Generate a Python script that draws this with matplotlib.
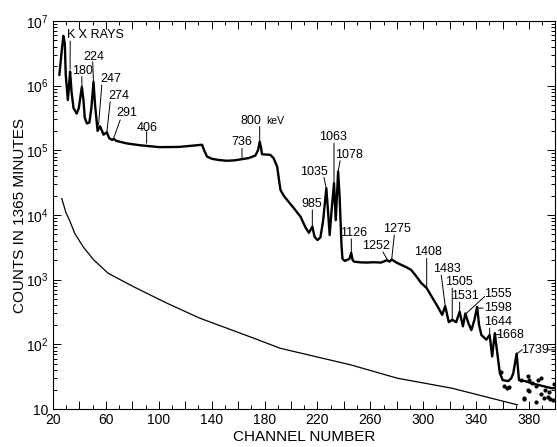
import numpy as np
import matplotlib
matplotlib.use('Agg')
import matplotlib.pyplot as plt
from matplotlib.ticker import FixedLocator, LogLocator, NullFormatter, FixedFormatter

plt.rcParams['font.family'] = ['Liberation Sans', 'DejaVu Sans']
plt.rcParams['mathtext.fontset'] = 'custom'
plt.rcParams['mathtext.rm'] = 'Liberation Sans'
plt.rcParams['mathtext.it'] = 'Liberation Sans:italic'
plt.rcParams['mathtext.bf'] = 'Liberation Sans:bold'

# ---------------- data ----------------
spec_channel = [24.8, 26.6, 27.8, 28.9, 29.6, 31.2, 32.1, 32.9, 34.0, 35.5,
                37.9, 39.5, 41.8, 43.0, 44.0, 45.6, 47.5, 49.0, 50.6, 51.8,
                53.7, 55.6, 58.2, 60.7, 62.4, 64.6, 65.9, 67.9, 75.7, 85.6,
                100.5, 115.4, 125.3, 132.7, 134.3, 136.5, 140.2, 145.1, 151.5, 157.1,
                162.9, 168.0, 173.0, 175.0, 176.3, 177.3, 178.1, 184.4, 186.9, 189.5,
                190.9, 192.0, 194.4, 197.1, 201.8, 207.2, 210.8, 213.5, 216.1, 217.8,
                220.0, 222.2, 224.2, 226.7, 227.9, 229.2, 230.7, 232.5, 233.8, 235.6,
                236.7, 238.2, 238.9, 240.7, 244.2, 245.5, 246.6, 247.7, 252.6, 257.9,
                262.6, 268.1, 272.5, 274.5, 276.1, 279.5, 283.2, 287.4, 290.8, 294.4,
                298.4, 302.6, 306.3, 311.0, 314.3, 316.6, 319.3, 321.9, 324.9, 327.5,
                330.0, 331.8, 334.2, 336.4, 338.7, 340.7, 342.2, 343.9, 347.7, 350.2,
                352.1, 354.1, 356.1, 357.9, 360.1, 364.3, 366.6, 368.1, 370.6, 372.4,
                377.1, 382.0, 389.0, 397.0, 400.0]
spec_counts = [1.46e6, 3.5e6, 5.9e6, 4.5e6, 1.5e6, 6.0e5, 1.0e6, 1.65e6, 8.0e5, 4.5e5,
               3.7e5, 4.5e5, 9.6e5, 6.0e5, 3.2e5, 2.6e5, 2.7e5, 4.5e5, 1.15e6, 5.0e5,
               2.0e5, 2.35e5, 1.75e5, 1.9e5, 1.55e5, 1.45e5, 1.5e5, 1.4e5, 1.28e5, 1.2e5,
               1.12e5, 1.13e5, 1.18e5, 1.22e5, 1.0e5, 8.0e4, 7.4e4, 7.1e4, 6.9e4, 7.0e4,
               7.3e4, 7.6e4, 8.3e4, 1.0e5, 1.36e5, 1.1e5, 8.7e4, 8.5e4, 7.5e4, 5.6e4,
               3.5e4, 2.45e4, 2.0e4, 1.7e4, 1.3e4, 9.4e3, 6.5e3, 5.3e3, 6.6e3, 4.6e3,
               4.1e3, 4.5e3, 8.0e3, 2.6e4, 1.2e4, 4.9e3, 1.2e4, 3.1e4, 8.3e3, 4.7e4,
               2.0e4, 3.3e3, 2.1e3, 1.95e3, 2.1e3, 2.6e3, 2.0e3, 1.9e3, 1.85e3, 1.84e3,
               1.86e3, 1.84e3, 2.0e3, 1.9e3, 2.05e3, 1.85e3, 1.7e3, 1.55e3, 1.42e3, 1.15e3,
               890, 740, 550, 380, 286, 390, 220, 240, 220, 320,
               190, 300, 210, 166, 240, 380, 200, 140, 118, 140,
               65, 149, 70, 36, 28, 27, 30, 36, 72, 28,
               27, 25, 23, 21, 21]

scatter_channel = [358.5, 360.8, 364.7, 363.7, 373.8, 375.9, 376.4, 378.9, 378.9, 380.1,
                   380.1, 382.3, 385.0, 385.3, 386.5, 389.1, 389.1, 391.5, 392.0, 394.1,
                   394.9, 395.9, 398.0, 398.5]
scatter_counts = [38, 22.5, 22, 21, 28, 14.5, 14.7, 20, 32.4, 28,
                  19, 24.9, 13, 22.5, 28, 30, 17.2, 14.7, 20, 15.6,
                  18, 14.5, 13.6, 24]

bkg_channel = [26.6, 29.7, 32.8, 36.4, 42.9, 50.5, 53.5, 61.6, 70.8, 80.8,
               106.0, 131.2, 168.9, 191.8, 245.4, 280.2, 321.5, 371.2]
bkg_counts = [1.8e4, 1.1e4, 8.0e3, 5.2e3, 3.2e3, 2.05e3, 1.8e3, 1.26e3, 1.0e3, 780,
              434, 253, 131, 87, 48, 30, 21, 11.6]

x_tick_values = list(range(20, 401, 20))
x_tick_labels = ['20', '', '60', '', '100', '', '140', '', '180', '', '220', '',
                 '260', '', '300', '', '340', '', '380', '']
y_tick_values = [10, 1e2, 1e3, 1e4, 1e5, 1e6, 1e7]
y_tick_labels = ['10', r'$\mathregular{10^2}$', r'$\mathregular{10^3}$',
                 r'$\mathregular{10^4}$', r'$\mathregular{10^5}$',
                 r'$\mathregular{10^6}$', r'$\mathregular{10^7}$']

# peak labels: text, text position (channel, log10 counts), leader start, leader end
peak_labels = ['180', '224', '247', '274', '291', '406', '736', '800', '985', '1035',
               '1063', '1078', '1126', '1252', '1275', '1408', '1483', '1505', '1531',
               '1555', '1598', '1644', '1668', '1739']
label_pos = [(42.0, 6.23), (50.5, 6.45), (63.4, 6.10), (69.4, 5.84), (75.9, 5.57),
             (91.4, 5.34), (162.9, 5.135), (169.9, 5.46), (215.5, 4.17), (217.4, 4.67),
             (231.9, 5.20), (244.2, 4.93), (247.0, 3.72), (264.2, 3.52), (280.3, 3.78),
             (303.4, 3.43), (318.2, 3.17), (326.9, 2.96), (331.6, 2.74), (356.1, 2.78),
             (356.6, 2.56), (356.4, 2.34), (365.4, 2.15), (384.7, 1.915)]
leader_start = [(41.8, 6.14), (50.0, 6.37), (56.9, 6.01), (63.2, 5.75), (70.8, 5.47),
                (90.8, 5.29), (162.9, 5.03), (176.3, 5.37), (216.1, 4.08), (224.9, 4.58),
                (232.5, 5.11), (237.1, 4.84), (245.6, 3.63), (269.4, 3.43), (278.1, 3.69),
                (302.6, 3.33), (313.6, 3.07), (321.9, 2.87), (327.5, 2.65), (346.4, 2.74),
                (341.6, 2.56), (350.2, 2.25), (354.9, 2.15), (370.6, 1.85)]
leader_end = [(41.8, 6.0), (50.6, 6.06), (54.4, 5.39), (60.7, 5.28), (65.9, 5.19),
              (90.8, 5.11), (162.9, 4.87), (176.3, 5.11), (216.1, 3.82), (226.7, 4.41),
              (232.5, 4.49), (235.6, 4.67), (245.6, 3.42), (273.1, 3.30), (276.1, 3.31),
              (302.6, 2.87), (316.6, 2.595), (321.9, 2.39), (327.5, 2.51), (332.6, 2.48),
              (345.2, 2.56), (350.2, 2.15), (358.5, 2.15), (374.9, 1.92)]

# ---------------- figure ----------------
fig = plt.figure(figsize=(5.57, 4.47), dpi=100)
ax = fig.add_axes([0.0952, 0.085, 0.9021, 0.868])
ax.set_yscale('log')

ax.plot(spec_channel, spec_counts, color='black', lw=1.7,
        solid_joinstyle='round', solid_capstyle='round')
ax.plot(scatter_channel, scatter_counts, ls='none', marker='o', ms=2.0, color='black')
ax.plot(bkg_channel, bkg_counts, color='black', lw=0.9, solid_joinstyle='round')

ax.set_xlim(20, 400)
ax.set_ylim(10, 1e7)

ax.xaxis.set_major_locator(FixedLocator(x_tick_values))
ax.xaxis.set_major_formatter(FixedFormatter(x_tick_labels))
ax.xaxis.set_minor_locator(FixedLocator(list(range(30, 400, 20))))
ax.yaxis.set_major_locator(FixedLocator(y_tick_values))
ax.yaxis.set_major_formatter(FixedFormatter(y_tick_labels))
ax.yaxis.set_minor_locator(LogLocator(base=10, subs=np.arange(2, 10)))
ax.yaxis.set_minor_formatter(NullFormatter())

ax.tick_params(which='both', direction='in', top=True, right=True, width=0.7)
ax.tick_params(which='major', length=6, labelsize=10, pad=3)
ax.tick_params(which='minor', length=3)
for s in ax.spines.values():
    s.set_linewidth(0.8)

ax.set_xlabel('CHANNEL NUMBER', fontsize=11)
ax.xaxis.set_label_coords(0.50, -0.055)
ax.set_ylabel('COUNTS IN 1365 MINUTES', fontsize=11)
ax.yaxis.set_label_coords(-0.052, 0.5)

lab_fs = 9
line_kw = dict(arrowstyle='-', lw=0.7, color='black', shrinkA=0, shrinkB=0)
for lab, (tx, ty), (sx, sy), (ex, ey) in zip(peak_labels, label_pos, leader_start, leader_end):
    ax.text(tx, 10 ** ty, lab, fontsize=lab_fs, ha='center', va='center')
    ax.annotate('', xy=(ex, 10 ** ey), xytext=(sx, 10 ** sy), arrowprops=line_kw)

# K X RAYS label with its leader
ax.text(30.6, 10 ** 6.78, 'K X RAYS', fontsize=lab_fs, ha='left', va='center')
ax.annotate('', xy=(32.9, 10 ** 6.25), xytext=(33.0, 10 ** 6.69), arrowprops=line_kw)
# keV unit next to 800
ax.text(181.0, 10 ** 5.46, 'keV', fontsize=7.5, ha='left', va='center')
# trailing leader of 1739 to the right frame
ax.annotate('', xy=(400, 10 ** 1.915), xytext=(394.5, 10 ** 1.915), arrowprops=line_kw)

fig.savefig('out.png', dpi=100)
